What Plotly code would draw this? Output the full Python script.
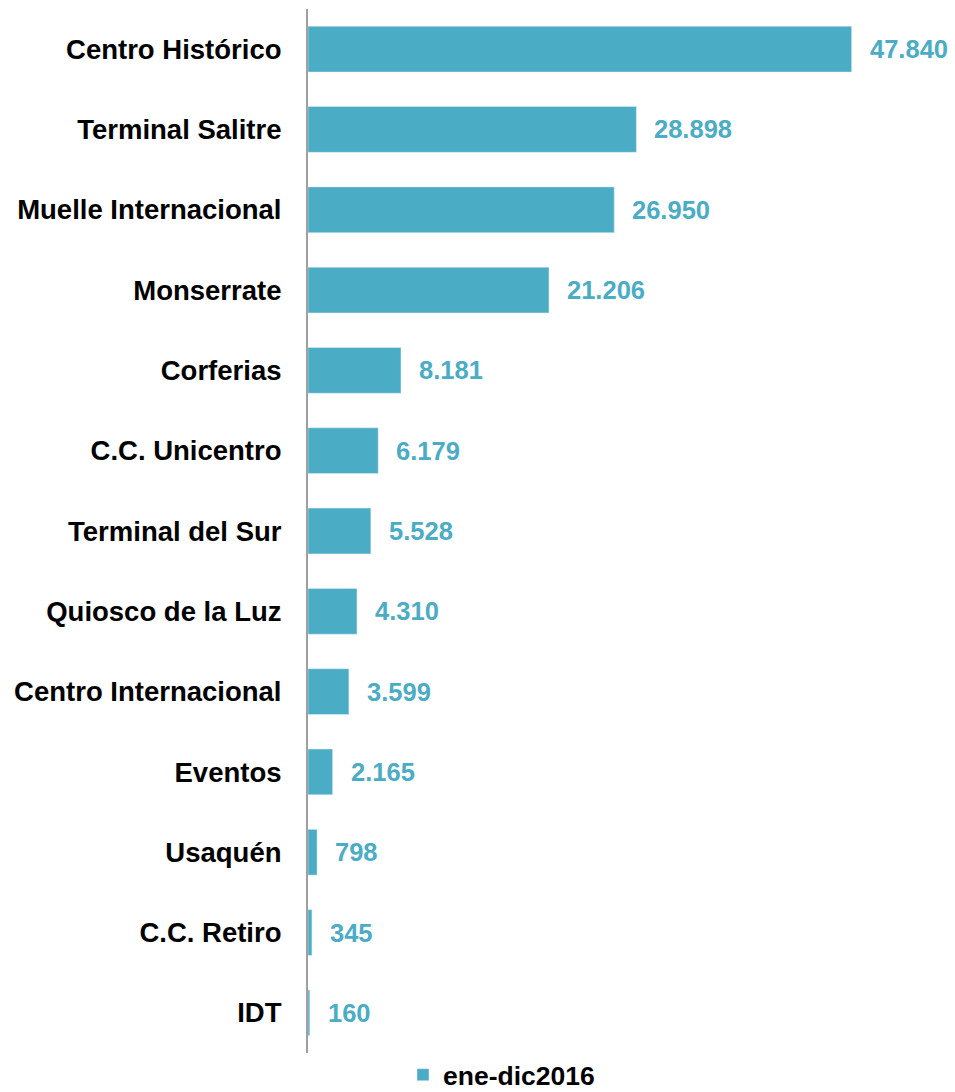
import plotly.graph_objects as go

categories = ["Centro Histórico", "Terminal Salitre", "Muelle Internacional", "Monserrate",
              "Corferias", "C.C. Unicentro", "Terminal del Sur", "Quiosco de la Luz",
              "Centro Internacional", "Eventos", "Usaquén", "C.C. Retiro", "IDT"]
values = [47840, 28898, 26950, 21206, 8181, 6179, 5528, 4310, 3599, 2165, 798, 345, 160]
labels = ["47.840", "28.898", "26.950", "21.206", "8.181", "6.179", "5.528", "4.310",
          "3.599", "2.165", "798", "345", "160"]
series_name = "ene-dic2016"

color = "#4BACC6"
font_family = "'Liberation Sans', Arial, sans-serif"

fig = go.Figure()
fig.add_trace(go.Bar(
    y=categories, x=values, orientation="h", name=series_name,
    marker=dict(color=color), showlegend=True,
))

for c, v, t in zip(categories, values, labels):
    fig.add_annotation(x=v, y=c, text=t, showarrow=False, xanchor="left",
                       xshift=16, yshift=0,
                       font=dict(family=font_family, size=25.5, color=color, weight="bold"))

fig.update_layout(
    width=955, height=1092,
    margin=dict(l=308, r=22, t=9, b=39, autoexpand=False),
    plot_bgcolor="white", paper_bgcolor="white",
    bargap=0.43,
    font=dict(family=font_family, size=27.5, color="black"),
    legend=dict(orientation="h", xref="container", yref="container",
                x=403 / 955, xanchor="left", y=1 - 1075 / 1092, yanchor="middle",
                bgcolor="rgba(0,0,0,0)", borderwidth=0,
                font=dict(size=26.5, weight="bold", family=font_family, color="black")),
)
fig.update_xaxes(range=[0, 55000], visible=False, showgrid=False, zeroline=False)
fig.update_yaxes(autorange="reversed", showline=True, linecolor="#A0A0A0", linewidth=2,
                 ticks="", ticklabelstandoff=19, showgrid=False, automargin=False,
                 tickfont=dict(family=font_family, size=27.5, color="black", weight="bold"))

fig.write_html("out.html", config={"displayModeBar": False},
               post_script="document.body.style.margin='0';")
